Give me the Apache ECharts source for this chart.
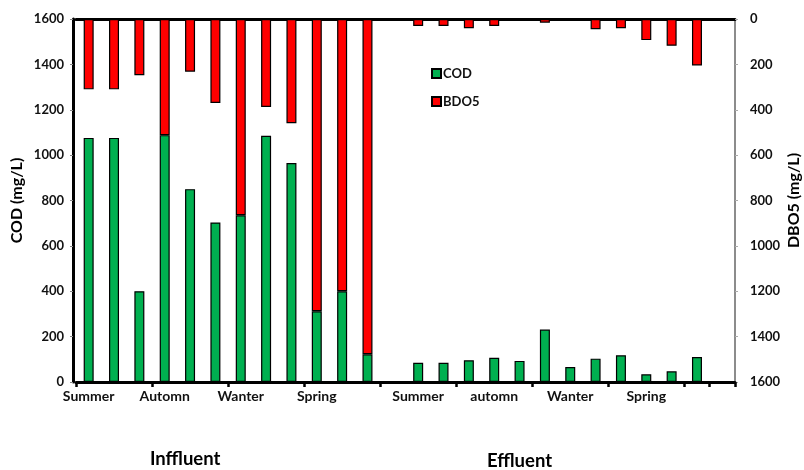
<!DOCTYPE html>
<html>
<head>
<meta charset="utf-8">
<script src="https://cdn.jsdelivr.net/npm/echarts@6/dist/echarts.min.js"></script>
<style>
  html, body { margin: 0; padding: 0; background: #fff; }
  #chart { width: 804px; height: 470px; }
</style>
</head>
<body>
<div id="chart"></div>
<script>
// Sample slots: 12 influent, one empty spacer, 12 effluent, one trailing spacer
const categories = [
  'I1', 'I2', 'I3', 'I4', 'I5', 'I6', 'I7', 'I8', 'I9', 'I10', 'I11', 'I12',
  'gap',
  'E1', 'E2', 'E3', 'E4', 'E5', 'E6', 'E7', 'E8', 'E9', 'E10', 'E11', 'E12',
  'end'
];
// Season labels shown under the axis (blank slots carry no label)
const seasonLabels = [
  'Summer', '', '', 'Automn', '', '', 'Wanter', '', '', 'Spring', '', '',
  '',
  'Summer', '', '', 'automn', '', '', 'Wanter', '', '', 'Spring', '', '',
  ''
];
// COD (mg/L), left axis
const codValues = [
  1076, 1076, 400, 1088, 850, 703, 735, 1085, 965, 312, 400, 122,
  null,
  85, 85, 96, 107, 93, 231, 66, 103, 118, 34, 47, 110,
  null
];
// BOD5 (mg/L), right axis (inverted, hanging from the top)
const bodValues = [
  310, 310, 248, 512, 232, 370, 865, 388, 459, 1288, 1200, 1478,
  null,
  31, 31, 41, 31, 3, 16, 3, 45, 41, 93, 118, 205,
  null
];
const yTicks = { min: 0, max: 1600, interval: 200 };

const FONT = 'Lato';
const plainNumber = (v) => String(v);
const chart = echarts.init(document.getElementById('chart'), null, { renderer: 'canvas' });

chart.setOption({
  animation: false,
  backgroundColor: '#ffffff',
  textStyle: { fontFamily: FONT },
  grid: { left: 76, right: 69, top: 19, bottom: 88, containLabel: false, outerBoundsMode: 'none' },
  legend: {
    orient: 'vertical',
    left: 426,
    top: 62,
    itemWidth: 9,
    itemHeight: 9,
    itemGap: 15,
    icon: 'rect',
    data: ['COD', 'BDO5'],
    textStyle: { fontFamily: FONT, fontSize: 13, fontWeight: 'bold', color: '#111', padding: [0, 0, 0, -3] }
  },
  xAxis: [
    {
      type: 'category',
      data: categories,
      position: 'bottom',
      axisLine: { onZero: false, lineStyle: { color: '#000', width: 3 } },
      axisTick: { show: true, interval: 2, length: 5, lineStyle: { color: '#000', width: 2.5 } },
      axisLabel: {
        interval: 0,
        margin: 7,
        fontFamily: FONT,
        fontSize: 14,
        fontWeight: 'bold',
        color: '#111',
        formatter: (v, i) => seasonLabels[i]
      }
    },
    {
      type: 'category',
      data: categories,
      position: 'top',
      axisLine: { onZero: false, lineStyle: { color: '#000', width: 3 } },
      axisTick: { show: false },
      axisLabel: { show: false }
    }
  ],
  yAxis: [
    {
      type: 'value',
      position: 'left',
      offset: 3,
      min: yTicks.min, max: yTicks.max, interval: yTicks.interval,
      name: 'COD (mg/L)',
      nameLocation: 'middle',
      nameGap: 48,
      nameMoveOverlap: false,
      nameTextStyle: { fontFamily: FONT, fontSize: 16, fontWeight: 'bold', color: '#000' },
      axisLine: { show: true, lineStyle: { color: '#000', width: 3 } },
      axisTick: { show: true, length: 3, lineStyle: { color: '#888', width: 1 } },
      axisLabel: { margin: 9, fontFamily: FONT, fontSize: 13, fontWeight: 'bold', color: '#111', formatter: plainNumber },
      splitLine: { show: false }
    },
    {
      type: 'value',
      position: 'right',
      inverse: true,
      min: yTicks.min, max: yTicks.max, interval: yTicks.interval,
      name: 'DBO5 (mg/L)',
      nameLocation: 'middle',
      nameGap: 51,
      nameMoveOverlap: false,
      nameTextStyle: { fontFamily: FONT, fontSize: 16, fontWeight: 'bold', color: '#000' },
      axisLine: { show: true, lineStyle: { color: '#666', width: 1.5 } },
      axisTick: { show: true, length: 3, lineStyle: { color: '#aaa', width: 1 } },
      axisLabel: { margin: 15, fontFamily: FONT, fontSize: 13, fontWeight: 'bold', color: '#111', formatter: plainNumber },
      splitLine: { show: false }
    }
  ],
  series: [
    {
      name: 'BDO5',
      type: 'bar',
      xAxisIndex: 0,
      yAxisIndex: 1,
      data: bodValues,
      barWidth: 10,
      barGap: '-100%',
      z: 2,
      itemStyle: { color: '#ff0000', borderColor: '#000', borderWidth: 1.2 }
    },
    {
      name: 'COD',
      type: 'bar',
      xAxisIndex: 0,
      yAxisIndex: 0,
      data: codValues,
      barWidth: 10,
      barGap: '-100%',
      z: 3,
      itemStyle: { color: '#00b050', borderColor: '#000', borderWidth: 1.2 }
    }
  ],
  graphic: [
    {
      type: 'text',
      left: 150, top: 450,
      style: { text: 'Inffluent', font: 'bold 18.5px ' + FONT, fill: '#000' }
    },
    {
      type: 'text',
      left: 487, top: 452,
      style: { text: 'Effluent', font: 'bold 18.5px ' + FONT, fill: '#000' }
    }
  ]
});
</script>
</body>
</html>
